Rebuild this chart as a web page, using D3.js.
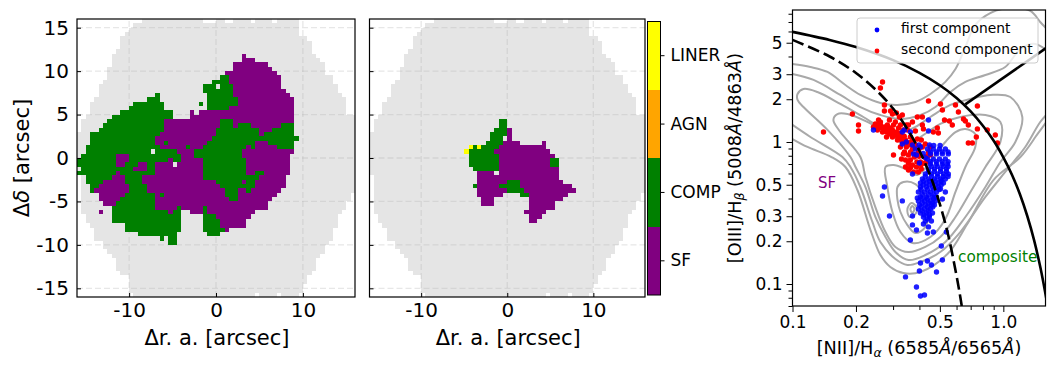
<!DOCTYPE html>
<html>
<head>
<meta charset="utf-8">
<script src="https://cdn.jsdelivr.net/npm/d3@7/dist/d3.min.js"></script>
<style>
body { margin: 0; background: #fff; }
text { font-family: "DejaVu Sans", sans-serif; fill: #000; }
</style>
</head>
<body>
<svg width="1055" height="370"></svg>
<script>
// spaxel map is 64 x 64 cells of 0.5 arcsec, rows counted from the top
var cellCount = 64;
var classNames = ["SF", "COMP", "AGN", "LINER"];
var classColors = ["purple", "green", "orange", "yellow"];
var mapTicks = [-15, -10, -5, 0, 5, 10, 15];
var mapXTicks = [-10, 0, 10];

// first and last column with a measurement, per row
var footFirst = [15,13,12,11,10,10,10,9,8,8,8,7,7,7,6,5,5,5,4,3,3,3,2,1,1,1,0,0,0,0,0,0,0,0,0,0,
                 1,1,1,1,1,1,1,1,1,2,2,3,4,4,4,6,6,7,8,9,9,9,10,12,12,12,12,13];
var footLast = [50,50,50,50,52,53,53,53,54,55,56,56,56,58,58,59,59,60,61,61,61,61,
                63,63,63,63,63,63,63,63,63,63,63,63,63,63,63,63,63,63,
                62,62,61,61,60,59,59,59,58,58,58,57,56,56,55,54,54,54,53,52,52,51,51,50];
var footGaps = [[0,29],[0,30],[0,31],[0,34],[0,35],[0,40],[0,45],[63,41],[63,46]];

// [row, first column, last column]
var compSpans1 = [[13,33,34],[14,31,34],[15,29,31],[15,33,35],[16,29,35],[17,18,18],[17,30,35],
    [18,16,18],[18,30,36],[19,13,19],[19,28,28],[19,30,36],[20,12,19],[20,30,34],[21,10,21],[22,8,21],
    [23,7,19],[23,33,35],[24,6,19],[24,33,35],[24,37,39],[24,47,49],[25,5,19],[25,32,41],[25,45,49],
    [26,3,18],[26,32,41],[26,43,49],[27,3,17],[27,31,50],[28,3,17],[28,20,20],[28,30,40],[28,44,49],
    [29,2,18],[29,25,25],[29,29,38],[29,40,40],[29,46,49],[30,2,16],[30,18,22],[30,27,37],
    [31,1,8],[31,12,23],[31,27,37],[32,0,8],[32,12,20],[32,22,23],[32,29,38],
    [33,0,8],[33,11,13],[33,16,17],[33,29,38],[34,1,12],[34,16,17],[34,29,38],
    [35,0,8],[35,10,17],[35,29,38],[35,41,42],[36,2,7],[36,11,14],[36,29,41],
    [37,2,5],[37,11,14],[37,32,37],[37,39,40],[38,3,4],[38,12,15],[38,33,40],
    [39,3,3],[39,12,15],[39,34,36],[39,39,39],[40,11,17],[40,19,19],[40,34,36],[41,10,17],[41,35,36],
    [42,9,17],[43,8,17],[43,23,23],[43,29,29],[44,8,20],[44,22,23],[44,29,29],[45,8,23],[45,29,31],
    [46,8,23],[46,29,32],[47,11,23],[47,29,32],[48,11,23],[48,29,33],[49,14,22],[49,30,32],
    [50,19,19],[50,21,22],[51,21,22]];
var sfSpans1 = [[8,38,38],[9,38,40],[10,36,43],[11,36,44],[12,34,45],[13,35,46],[14,35,46],[15,36,46],
    [16,36,47],[17,36,48],[18,37,49],[19,37,49],[20,35,49],[21,26,26],[21,28,49],[22,26,49],
    [23,20,32],[23,36,49],[24,20,32],[24,36,36],[24,40,46],[25,20,31],[25,42,44],[26,19,31],[26,42,42],
    [27,18,30],[28,18,19],[28,21,29],[28,41,43],[29,19,24],[29,26,28],[29,39,39],[29,41,45],
    [30,23,26],[30,38,49],[31,9,11],[31,24,26],[31,38,48],[32,9,11],[32,21,21],[32,24,28],[32,39,48],
    [33,9,10],[33,14,15],[33,18,21],[33,23,28],[33,39,48],[34,13,15],[34,18,28],[34,39,48],
    [35,9,9],[35,18,28],[35,39,40],[35,43,48],[36,8,10],[36,15,28],[36,42,47],
    [37,6,10],[37,15,31],[37,38,38],[37,41,47],[38,5,11],[38,16,32],[38,41,47],
    [39,4,11],[39,16,33],[39,37,38],[39,40,46],[40,5,10],[40,18,18],[40,20,33],[40,37,45],
    [41,5,9],[41,18,34],[41,37,44],[42,6,8],[42,18,43],[43,18,22],[43,24,28],[43,30,43],
    [44,5,5],[44,21,21],[44,26,28],[44,30,40],[45,32,39],[46,33,38],[47,33,38],[48,34,34]];
var compSpans2 = [[23,30,31],[24,30,31],[25,29,31],[26,28,31],[27,28,30],[28,27,30],[29,24,24],[29,26,29],
    [30,23,28],[31,23,29],[32,23,29],[32,42,43],[33,23,29],[33,42,43],[34,24,29],[37,32,34],
    [38,24,24],[38,30,34],[39,32,35],[40,35,36]];
var sfSpans2 = [[25,32,32],[26,32,32],[27,32,32],[28,31,34],[28,40,40],[29,30,40],[30,29,41],[31,30,42],
    [32,30,41],[33,30,41],[34,30,43],[35,25,28],[35,30,43],[36,25,43],[37,25,31],[37,35,44],
    [38,25,29],[38,35,46],[39,25,31],[39,36,47],[40,25,30],[40,37,45],[41,26,28],[41,37,44],
    [42,26,28],[42,37,42],[43,37,42],[44,36,40],[45,37,39],[46,37,38]];
var linerSpans2 = [[29,23,23],[29,25,25],[30,22,22]];

// BPT panel, everything in log10 of the ratio: [log NII/Ha, log OIII/Hb]
var niiTicks = [0.1, 0.2, 0.5, 1.0];
var niiMinor = [0.3, 0.4, 0.6, 0.7, 0.8, 0.9];
var oiiiTicks = [0.1, 0.2, 0.3, 0.5, 1, 2, 3, 5];
var oiiiMinor = [0.07, 0.08, 0.09, 0.4, 0.6, 0.7, 0.8, 0.9, 4, 6, 7, 8];

// demarcation lines: [NII/Ha, OIII/Hb]
var solidLine = [[0.1,5.96],[0.15,5.23],[0.2,4.66],[0.3,3.77],[0.4,3.07],[0.5,2.51],[0.6,2.04],[0.7,1.64],
    [0.8,1.30],[0.9,1.02],[1.0,0.78],[1.1,0.586],[1.2,0.427],[1.3,0.30],[1.4,0.203],[1.5,0.13],[1.58,0.087],[1.62,0.07]];
var dashedLine = [[0.1,5.24],[0.15,4.0],[0.2,3.06],[0.25,2.31],[0.3,1.72],[0.35,1.24],[0.4,0.867],[0.45,0.58],
    [0.5,0.365],[0.55,0.215],[0.6,0.114],[0.62,0.087],[0.635,0.07]];
var branchLine = [[0.66,1.84],[1.6,4.6]];

var contour1 = [[-1,.549],[-.915,.528],[-.834,.493],[-.749,.401],[-.678,.331],[-.583,.275],[-.502,.261],[-.417,.282],
    [-.346,.338],[-.275,.423],[-.227,.514],[-.180,.669],[-.133,.824],[-.062,.908],[.033,.944],[.128,.923],[.175,.845],
    [.270,.669],[.270,.317],[.152,.035],[.081,-.106],[-.047,-.268],[-.171,-.577],[-.265,-.789],[-.393,-.915],[-.474,-.923],
    [-.536,-.880],[-.583,-.796],[-.630,-.620],[-.692,-.338],[-.749,-.176],[-.815,-.106],[-.929,-.035],[-1,.021]];
var contour2 = [[-1,.479],[-.900,.437],[-.773,.331],[-.678,.246],[-.583,.190],[-.488,.162],[-.393,.190],[-.322,.246],
    [-.251,.352],[-.180,.423],[-.085,.472],[.009,.528],[.081,.655],[.152,.690],[.270,.528],[.270,.317],[.175,.141],
    [.104,-.035],[.009,-.211],[-.085,-.387],[-.204,-.634],[-.299,-.775],[-.393,-.845],[-.455,-.866],[-.512,-.824],
    [-.583,-.704],[-.621,-.563],[-.678,-.317],[-.725,-.176],[-.763,-.106],[-.915,.035],[-1,.120]];
var contour3 = [[-.976,.296],[-.976,.338],[-.948,.373],[-.882,.352],[-.773,.268],[-.664,.176],[-.583,.106],[-.488,.070],
    [-.417,.106],[-.346,.176],[-.251,.261],[-.156,.303],[-.062,.331],[.033,.317],[.090,.176],[.057,0],[-.014,-.141],
    [-.085,-.317],[-.180,-.528],[-.275,-.704],[-.370,-.796],[-.450,-.831],[-.512,-.775],[-.559,-.669],[-.607,-.528],
    [-.654,-.317],[-.701,-.176],[-.725,-.106],[-.834,.085],[-.948,.246]];
var contour4 = [[-.806,.155],[-.787,.197],[-.739,.197],[-.645,.141],[-.521,.035],[-.464,-.021],[-.393,.035],[-.299,.127],
    [-.204,.176],[-.085,.190],[-.014,.141],[-.014,0],[-.085,-.176],[-.156,-.352],[-.227,-.528],[-.299,-.669],[-.370,-.739],
    [-.450,-.775],[-.512,-.739],[-.559,-.634],[-.607,-.458],[-.654,-.246],[-.678,-.106],[-.773,.070]];
var contour5 = [[-.559,-.176],[-.521,-.162],[-.464,-.190],[-.408,-.232],[-.346,-.141],[-.275,0],[-.227,.070],[-.180,.092],
    [-.133,.056],[-.133,-.035],[-.180,-.176],[-.227,-.352],[-.275,-.542],[-.346,-.669],[-.431,-.711],[-.488,-.634],
    [-.526,-.493],[-.550,-.317]];
var contour6 = [[-.502,-.408],[-.502,-.317],[-.474,-.282],[-.417,-.296],[-.370,-.387],[-.355,-.493],[-.370,-.599],
    [-.417,-.641],[-.455,-.585],[-.488,-.493]];
var contour7 = [[-.455,-.472],[-.436,-.430],[-.412,-.458],[-.417,-.507],[-.445,-.528]];
var contour8 = [[-.441,-.472],[-.431,-.451],[-.422,-.472],[-.431,-.500]];

var firstComponent = [[-.564,-.317],[-.573,-.380],[-.540,-.521],[-.479,-.415],[-.431,-.521],[-.431,-.584],[-.412,-.620],
    [-.441,-.690],[-.294,-.732],[-.270,-.634],[-.332,-.634],[-.360,-.641],[-.393,-.852],[-.360,-.838],[-.341,-.866],
    [-.289,-.831],[-.398,-.908],[-.317,-.915],[-.464,-.950],[-.412,-1.021],[-.393,-1.084],[-.374,-1.077],[-.431,-.225],
    [-.298,-.331],[-.275,-.352],[-.289,-.401],[-.408,-.394],[-.379,-.577],[-.355,-.598],
    [-.355,.155],[-.355,.077],[-.479,.070],[-.469,.084],[-.479,-.014],[-.460,0],[-.426,-.084],[-.412,-.092],[-.398,-.148],
    [-.616,.084],[-.441,.070],[-.431,-.021],[-.417,-.049],[-.393,-.035],
    [-.360,-.049],[-.332,-.049],[-.303,-.049],[-.275,-.049],[-.346,-.084],[-.317,-.084],[-.289,-.084],[-.261,-.084],
    [-.360,-.120],[-.332,-.120],[-.303,-.120],[-.275,-.120],[-.346,-.155],[-.317,-.155],[-.289,-.155],[-.265,-.155],
    [-.355,-.190],[-.327,-.190],[-.298,-.190],[-.270,-.190],[-.370,-.225],[-.341,-.225],[-.313,-.225],[-.284,-.225],[-.261,-.225],
    [-.384,-.260],[-.355,-.260],[-.327,-.260],[-.298,-.260],[-.275,-.260],[-.393,-.289],[-.365,-.289],[-.336,-.289],[-.308,-.289],[-.284,-.289],
    [-.393,-.317],[-.365,-.317],[-.336,-.317],[-.308,-.317],[-.403,-.352],[-.374,-.352],[-.346,-.352],[-.317,-.352],
    [-.393,-.387],[-.365,-.387],[-.336,-.387],[-.317,-.387],[-.403,-.415],[-.374,-.415],[-.346,-.415],[-.322,-.415],
    [-.398,-.444],[-.370,-.444],[-.341,-.444],[-.327,-.444],[-.403,-.472],[-.374,-.472],[-.346,-.472],
    [-.393,-.500],[-.365,-.500],[-.336,-.500],[-.379,-.528],[-.351,-.528],[-.370,-.556],[-.341,-.556],
    [-.346,-.070],[-.318,-.070],[-.290,-.070],[-.262,-.070],[-.346,-.138],[-.318,-.138],[-.290,-.138],[-.262,-.138],
    [-.340,-.172],[-.313,-.172],[-.285,-.172],[-.262,-.172],[-.355,-.207],[-.327,-.207],[-.298,-.207],[-.270,-.207],
    [-.370,-.243],[-.340,-.243],[-.312,-.243],[-.285,-.243],[-.262,-.243],[-.378,-.275],[-.350,-.275],[-.322,-.275],[-.295,-.275],
    [-.380,-.303],[-.350,-.303],[-.322,-.303],[-.295,-.303],[-.390,-.335],[-.360,-.335],[-.330,-.335],[-.305,-.335],
    [-.385,-.370],[-.355,-.370],[-.330,-.370],[-.385,-.400],[-.360,-.400],[-.330,-.400],[-.385,-.430],[-.355,-.430],[-.335,-.430],
    [-.390,-.458],[-.360,-.458],[-.335,-.458],[-.385,-.486],[-.355,-.486],[-.375,-.514],[-.350,-.514],[-.360,-.542],
    [-.400,-.020],[-.380,-.080],[-.370,-.110],[-.350,-.020],[-.330,-.025],[-.300,-.025]];
var secondComponent = [[-.853,.070],[-.716,.197],[-.687,.120],[-.687,.077],[-.573,.422],[-.583,.380],[-.564,.260],[-.564,.218],
    [-.535,.218],[-.592,.155],[-.616,.106],[-.607,.127],[-.597,.084],[-.583,.120],[-.573,.070],[-.583,.141],[-.559,.092],
    [-.550,.120],[-.540,.056],[-.526,.084],[-.554,.035],[-.526,.035],[-.507,.070],[-.512,.141],[-.540,.155],[-.502,.014],
    [-.488,.049],[-.474,.084],[-.488,.120],[-.464,.014],[-.450,-.021],[-.441,.035],[-.460,.120],[-.493,.176],[-.526,.197],
    [-.564,.106],[-.592,.099],[-.602,.113],[-.517,.063],[-.497,.035],[-.535,.099],[-.554,.070],[-.479,0],[-.460,-.035],
    [-.521,.120],[-.497,.099],[-.431,.141],[-.408,.176],[-.455,.084],[-.507,.204],[-.479,.190],[-.450,.120],[-.521,-.092],
    [-.474,-.084],[-.355,.289],[-.298,.268],[-.289,.225],[-.227,.260],[-.123,.253],[-.213,.211],[-.189,.162],[-.180,.148],
    [-.166,.120],[-.279,.155],[-.256,.148],[-.242,.120],[-.123,.092],[-.076,.084],[-.038,.049],[-.028,-.007],[-.128,.035],
    [-.166,-.007],[-.147,-.007],[-.384,.176],[-.384,.120],[-.379,.092],[-.313,.099],[-.308,.063],[-.332,.070],[-.417,.077],
    [-.483,-.120],[-.464,-.127],[-.488,-.035],[-.469,-.070],[-.450,-.092],[-.431,-.049],[-.417,-.021],[-.441,-.127],
    [-.422,-.106],[-.403,-.070],[-.384,-.035],[-.370,-.014],[-.431,-.162],[-.412,-.176],[-.393,-.141],[-.374,-.106],
    [-.355,-.070],[-.365,-.141],[-.389,-.190],[-.408,.021],[-.389,.014],[-.431,.007],[-.346,-.035],[-.464,-.176],
    [-.450,-.197],[-.426,-.211],[-.403,-.211],
    [-.590,.125],[-.575,.100],[-.565,.085],[-.550,.095],[-.540,.080],[-.530,.060],[-.515,.050],[-.505,.045],[-.495,.060],
    [-.485,.020],[-.470,.040],[-.460,-.005],[-.445,-.005],[-.430,-.020],[-.415,-.040],[-.400,-.050],[-.440,-.070],
    [-.420,-.090],[-.400,-.100],[-.410,-.140],[-.390,-.160],[-.375,-.150],[-.360,-.100],[-.345,-.090],[-.450,-.150],[-.440,-.180]];

var svg = d3.select("svg");

// ---- helpers ----
var drawSpans = function(g, x, y, spans, color) {
    var cells = [];
    spans.forEach(function(s) {
        d3.range(s[1], s[2] + 1).forEach(function(col) { cells.push({row: s[0], col: col}); });
    });
    g.selectAll(null).data(cells).enter().append("rect")
        .attr("x", function(d) { return x(-16 + d.col / 2); })
        .attr("y", function(d) { return y(16 - d.row / 2); })
        .attr("width", function(d) { return x(-16 + (d.col + 1) / 2) - x(-16 + d.col / 2); })
        .attr("height", function(d) { return y(16 - (d.row + 1) / 2) - y(16 - d.row / 2); })
        .attr("fill", color)
        .attr("shape-rendering", "crispEdges");
};

var isGap = function(row, col) {
    return footGaps.some(function(g) { return g[0] === row && g[1] === col; });
};

var footSpans = [];
d3.range(cellCount).forEach(function(row) {
    d3.range(footFirst[row], footLast[row] + 1).forEach(function(col) {
        if (!isGap(row, col)) { footSpans.push([row, col, col]); }
    });
});

var styleAxis = function(g, size) {
    g.select(".domain").remove();
    g.selectAll("line").attr("stroke", "#000").attr("stroke-width", 1);
    g.selectAll("text").attr("font-size", size).attr("fill", "#000");
};

// ---- map panels ----
var makeMap = function(x0, x1, comp, sf, liner, showY) {
    var x = d3.scaleLinear().domain([-16, 16]).range([x0, x1]),
        y = d3.scaleLinear().domain([-16, 16]).range([297, 19]);
    var g = svg.append("g");

    drawSpans(g, x, y, footSpans, "#e5e5e5");

    // dashed grid sits under the coloured spaxels
    mapXTicks.forEach(function(t) {
        g.append("line").attr("x1", x(t)).attr("x2", x(t)).attr("y1", y(-16)).attr("y2", y(16));
    });
    mapTicks.forEach(function(t) {
        g.append("line").attr("x1", x(-16)).attr("x2", x(16)).attr("y1", y(t)).attr("y2", y(t));
    });
    g.selectAll("line")
        .attr("stroke", "#b0b0b0").attr("stroke-opacity", 0.3)
        .attr("stroke-width", 1.3).attr("stroke-dasharray", "6,3");

    drawSpans(g, x, y, comp, classColors[1]);
    drawSpans(g, x, y, sf, classColors[0]);
    drawSpans(g, x, y, liner, classColors[3]);

    g.append("rect")
        .attr("x", x0).attr("y", 19).attr("width", x1 - x0).attr("height", 278)
        .attr("fill", "none").attr("stroke", "#000").attr("stroke-width", 1.2);

    var xAxis = d3.axisBottom(x).tickValues(mapXTicks).tickSize(-4).tickPadding(6)
        .tickFormat(function(d) { return String(d); });
    g.append("g").attr("transform", "translate(0,297)").call(xAxis).call(styleAxis, 20);

    var yAxis = d3.axisLeft(y).tickValues(mapTicks).tickSize(-4).tickPadding(8)
        .tickFormat(function(d) { return showY ? String(d) : ""; });
    g.append("g").attr("transform", "translate(" + x0 + ",0)").call(yAxis).call(styleAxis, 20);

    g.append("text").attr("x", (x0 + x1) / 2 + (showY ? 1 : 1)).attr("y", 345)
        .attr("text-anchor", "middle").attr("font-size", 21)
        .text("\u0394r. a. [arcsec]");
};

makeMap(77, 355, compSpans1, sfSpans1, [], true);
makeMap(369.5, 645, compSpans2, sfSpans2, linerSpans2, false);

var yLabel = svg.append("text").attr("transform", "translate(29,158) rotate(-90)")
    .attr("text-anchor", "middle").attr("font-size", 21);
yLabel.append("tspan").text("\u0394");
yLabel.append("tspan").attr("font-style", "italic").text("\u03b4");
yLabel.append("tspan").text(" [arcsec]");

// ---- class colour bar ----
var barY = d3.scaleBand().domain(classNames).range([295, 21.5]);
var bar = svg.append("g");
bar.selectAll("rect").data(classNames).enter().append("rect")
    .attr("x", 647.5).attr("width", 13)
    .attr("y", function(d) { return barY(d); })
    .attr("height", barY.bandwidth())
    .attr("fill", function(d, i) { return classColors[i]; })
    .attr("shape-rendering", "crispEdges");
bar.append("rect").attr("x", 647.5).attr("y", 21.5).attr("width", 13).attr("height", 273.5)
    .attr("fill", "none").attr("stroke", "#000").attr("stroke-width", 1);
bar.append("g").attr("transform", "translate(660.5,0)")
    .call(d3.axisRight(barY).tickSize(4).tickPadding(6))
    .call(styleAxis, 17);

// ---- BPT panel ----
var bx = d3.scaleLog().domain([0.1, 1.585]).range([792.5, 1045.5]),
    by = d3.scaleLog().domain([0.07, 8.5]).range([306, 10]);

svg.append("clipPath").attr("id", "bpt-clip").append("rect")
    .attr("x", 792.5).attr("y", 10).attr("width", 253).attr("height", 296);

var bpt = svg.append("g").attr("clip-path", "url(#bpt-clip)");

var logLine = d3.line()
    .x(function(d) { return bx(Math.pow(10, d[0])); })
    .y(function(d) { return by(Math.pow(10, d[1])); });

[contour1, contour2].forEach(function(c) {
    bpt.append("path").attr("d", logLine.curve(d3.curveCatmullRom.alpha(0.5))(c))
        .attr("fill", "none").attr("stroke", "#a9a9a9").attr("stroke-width", 2);
});
[contour3, contour4, contour5, contour6, contour7, contour8].forEach(function(c) {
    bpt.append("path").attr("d", logLine.curve(d3.curveCatmullRomClosed.alpha(0.5))(c))
        .attr("fill", "none").attr("stroke", "#a9a9a9").attr("stroke-width", 2);
});

var drawPoints = function(points, color, opacity) {
    bpt.append("g").selectAll("circle").data(points).enter().append("circle")
        .attr("cx", function(d) { return bx(Math.pow(10, d[0])); })
        .attr("cy", function(d) { return by(Math.pow(10, d[1])); })
        .attr("r", 2.7)
        .attr("fill", color).attr("fill-opacity", opacity);
};
drawPoints(secondComponent, "red", 1);
drawPoints(firstComponent, "blue", 0.88);

var plainLine = d3.line().curve(d3.curveCatmullRom)
    .x(function(d) { return bx(d[0]); })
    .y(function(d) { return by(d[1]); });
bpt.append("path").attr("d", plainLine(solidLine))
    .attr("fill", "none").attr("stroke", "#000").attr("stroke-width", 2.6);
bpt.append("path").attr("d", plainLine(dashedLine))
    .attr("fill", "none").attr("stroke", "#000").attr("stroke-width", 2.6).attr("stroke-dasharray", "12,5");
bpt.append("path").attr("d", plainLine(branchLine))
    .attr("fill", "none").attr("stroke", "#000").attr("stroke-width", 2.6);

// frame
svg.append("rect").attr("x", 792.5).attr("y", 10).attr("width", 253).attr("height", 296)
    .attr("fill", "none").attr("stroke", "#000").attr("stroke-width", 1.2);

svg.append("g").attr("transform", "translate(0,306)")
    .call(d3.axisBottom(bx).tickValues(niiTicks).tickFormat(d3.format(".1f")).tickSize(6).tickPadding(4))
    .call(styleAxis, 17);
svg.append("g").attr("transform", "translate(0,306)")
    .call(d3.axisBottom(bx).tickValues(niiMinor).tickFormat("").tickSize(4))
    .call(styleAxis, 17);
svg.append("g").attr("transform", "translate(792.5,0)")
    .call(d3.axisLeft(by).tickValues(oiiiTicks).tickFormat(String).tickSize(6).tickPadding(4))
    .call(styleAxis, 17);
svg.append("g").attr("transform", "translate(792.5,0)")
    .call(d3.axisLeft(by).tickValues(oiiiMinor).tickFormat("").tickSize(4))
    .call(styleAxis, 17);

// text labels in the panel
svg.append("text").attr("x", 818).attr("y", 188).attr("font-size", 15).style("fill", "purple").text("SF");
svg.append("text").attr("x", 958).attr("y", 262).attr("font-size", 15.3).style("fill", "green").text("composite");

var ratioLabel = function(sel, ion, sub, ratio) {
    sel.append("tspan").text(ion + "/H");
    sel.append("tspan").attr("font-size", 12.5).attr("font-style", "italic").attr("dy", 3).text(sub);
    sel.append("tspan").attr("dy", -3).text(" (" + ratio[0]);
    sel.append("tspan").attr("font-style", "italic").text("\u00c5");
    sel.append("tspan").text("/" + ratio[1]);
    sel.append("tspan").attr("font-style", "italic").text("\u00c5");
    sel.append("tspan").text(")");
};
ratioLabel(svg.append("text").attr("x", 919).attr("y", 354).attr("text-anchor", "middle").attr("font-size", 17.7),
    "[NII]", "\u03b1", ["6585", "6565"]);
ratioLabel(svg.append("text").attr("transform", "translate(741,158) rotate(-90)").attr("text-anchor", "middle").attr("font-size", 17.7),
    "[OIII]", "\u03b2", ["5008", "4863"]);

// legend
var legend = svg.append("g");
legend.append("rect").attr("x", 857).attr("y", 18).attr("width", 181).attr("height", 45).attr("rx", 3)
    .attr("fill", "#fff").attr("fill-opacity", 0.8).attr("stroke", "#ccc");
[["first component", "blue", 30, 33], ["second component", "red", 51, 54]].forEach(function(e) {
    legend.append("circle").attr("cx", 877).attr("cy", e[2]).attr("r", 2.4).attr("fill", e[1]);
    legend.append("text").attr("x", 901).attr("y", e[3]).attr("font-size", 13.8).text(e[0]);
});
</script>
</body>
</html>
